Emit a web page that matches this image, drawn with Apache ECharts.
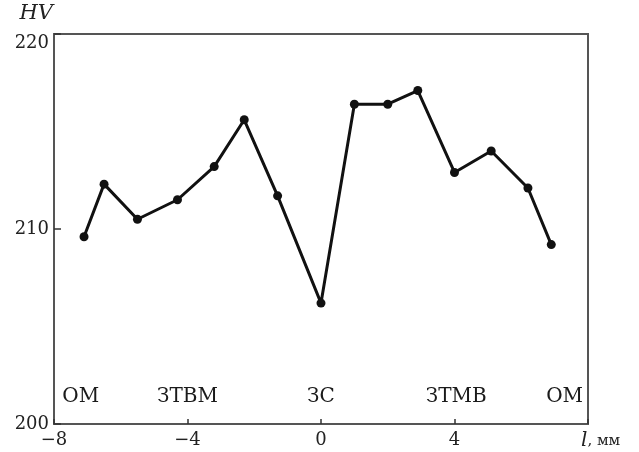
<!DOCTYPE html>
<html>
<head>
<meta charset="utf-8">
<script src="https://cdn.jsdelivr.net/npm/echarts@6/dist/echarts.min.js"></script>
<style>html,body{margin:0;padding:0;background:#fff}#c{width:639px;height:452px}</style>
</head>
<body>
<div id="c"></div>
<script>
var xPos = [-7.1, -6.5, -5.5, -4.3, -3.2, -2.3, -1.3, 0, 1.0, 2.0, 2.9, 4.0, 5.1, 6.2, 6.9];
var hv = [209.6, 212.3, 210.5, 211.5, 213.2, 215.6, 211.7, 206.2, 216.4, 216.4, 217.1, 212.9, 214.0, 212.1, 209.2];
var zoneNames = ['ОМ', 'ЗТВМ', 'ЗС', 'ЗТМВ', 'ОМ'];
var zonePos = [-7.2, -4.0, 0, 4.05, 7.3];
var zoneY = 201.4;
var xTicks = [-8, -4, 0, 4, 8];
var yTicks = [200, 210, 220];

var FONT = 'DejaVu Serif';
var chart = echarts.init(document.getElementById('c'), null, {renderer: 'canvas'});
chart.setOption({
  animation: false,
  backgroundColor: '#fff',
  grid: {left: 54, right: 51, top: 34, bottom: 28, show: true, borderColor: '#555', borderWidth: 2},
  xAxis: {
    type: 'value', min: xTicks[0], max: xTicks[xTicks.length - 1], interval: 4,
    axisLine: {show: true, onZero: false, lineStyle: {color: '#555', width: 2}},
    axisTick: {show: true, inside: true, length: 5, lineStyle: {color: '#333', width: 1.5}},
    splitLine: {show: false},
    axisLabel: {
      color: '#222', fontFamily: FONT, fontSize: 18, margin: 7,
      formatter: function (v) { if (v === 8) return ''; return v < 0 ? '\u2212' + Math.abs(v) : String(v); }
    },
    name: '{i|l}{s|, мм}', nameLocation: 'end', nameGap: -7,
    nameTextStyle: {
      align: 'left', verticalAlign: 'top', padding: [7, 0, 0, 0],
      rich: {
        i: {fontFamily: FONT, fontStyle: 'italic', fontSize: 20, color: '#222'},
        s: {fontFamily: FONT, fontSize: 15, color: '#222'}
      }
    }
  },
  yAxis: {
    type: 'value', min: yTicks[0], max: yTicks[yTicks.length - 1], interval: 10,
    axisLine: {show: true, onZero: false, lineStyle: {color: '#555', width: 2}},
    axisTick: {show: true, inside: true, length: 7, lineStyle: {color: '#333', width: 1.5}},
    splitLine: {show: false},
    axisLabel: {color: '#222', fontFamily: FONT, fontSize: 18, margin: 5, verticalAlignMaxLabel: 'top'},
    name: 'HV', nameLocation: 'end', nameGap: 10,
    nameTextStyle: {fontFamily: FONT, fontStyle: 'italic', fontSize: 21, color: '#222', align: 'right', padding: [0, 1, 0, 0]}
  },
  series: [
    {
      type: 'line',
      data: xPos.map(function (x, i) { return [x, hv[i]]; }),
      symbol: 'circle', symbolSize: 9,
      lineStyle: {color: '#111', width: 3},
      itemStyle: {color: '#111'}
    },
    {
      type: 'scatter',
      data: zonePos.map(function (x, i) { return {value: [x, zoneY], name: zoneNames[i]}; }),
      symbolSize: 0,
      itemStyle: {opacity: 1},
      label: {show: true, position: 'inside', formatter: '{b}', color: '#1a1a1a', fontFamily: FONT, fontSize: 20},
      silent: true
    }
  ]
});
</script>
</body>
</html>
